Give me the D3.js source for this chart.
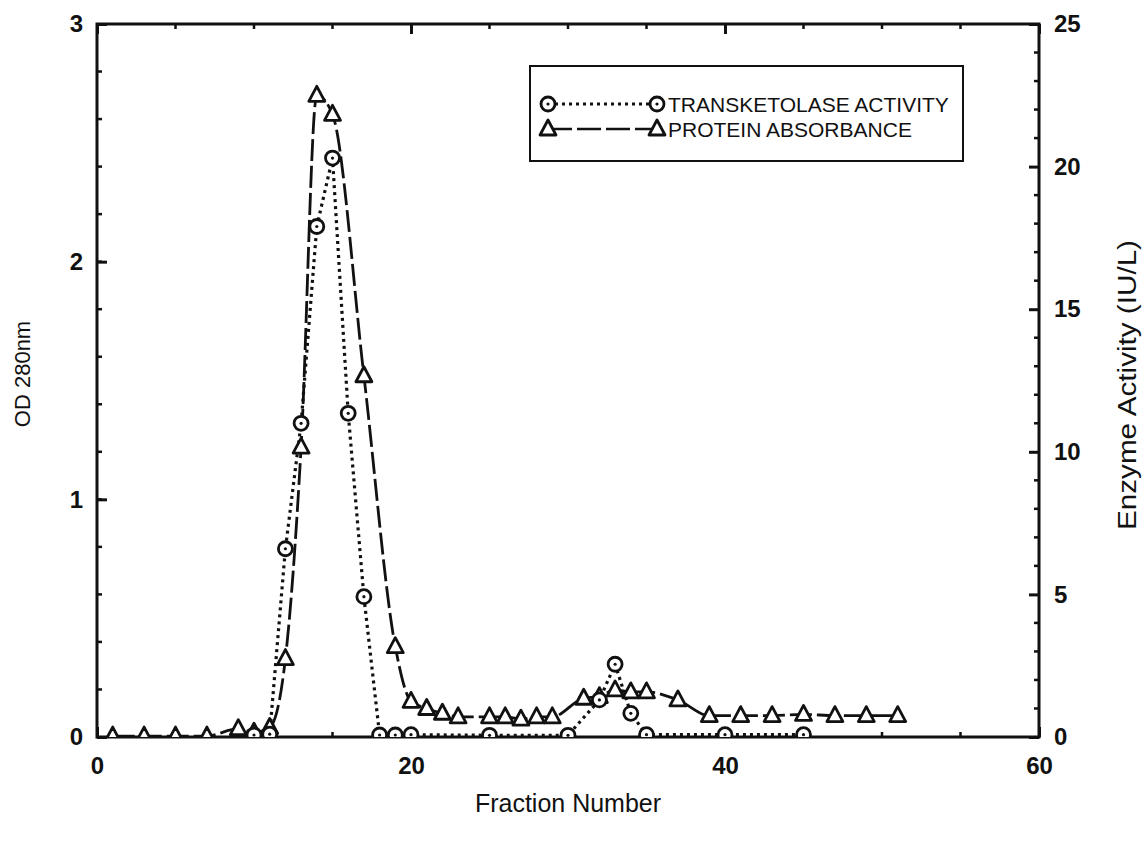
<!DOCTYPE html>
<html>
<head>
<meta charset="utf-8">
<script src="https://cdn.jsdelivr.net/npm/d3@7"></script>
<style>
  body { margin: 0; background: #fff; }
  svg { display: block; font-family: "Liberation Sans", Arial, Helvetica, sans-serif; }
</style>
</head>
<body>
<svg id="chart" width="1147" height="843"></svg>
<script>
// Transketolase activity (IU/L, right axis) per fraction
const activityFractions = [10, 11, 12, 13, 14, 15, 16, 17, 18, 19, 20, 25, 30, 32, 33, 34, 35, 40, 45];
const activityValues    = [0.07, 0.1, 6.6, 11.0, 17.9, 20.3, 11.35, 4.92, 0.07, 0.07, 0.08, 0.06, 0.06, 1.3, 2.55, 0.83, 0.08, 0.08, 0.08];

// Protein absorbance (OD 280nm, left axis) per fraction
const proteinFractions = [1, 3, 5, 7, 9, 10, 11, 12, 13, 14, 15, 17, 19, 20, 21, 22, 23, 25, 26, 27, 28, 29, 31, 32, 33, 34, 35, 37, 39, 41, 43, 45, 47, 49, 51];
const proteinValues    = [0.004, 0.004, 0.004, 0.004, 0.035, 0.02, 0.04, 0.33, 1.22, 2.70, 2.62, 1.52, 0.38, 0.15, 0.12, 0.10, 0.085, 0.085, 0.085, 0.075, 0.085, 0.085, 0.163, 0.17, 0.198, 0.19, 0.19, 0.156, 0.09, 0.09, 0.09, 0.095, 0.09, 0.09, 0.09];

// Axis ticks and labels
const xTicks = [0, 20, 40, 60];
const odTicks = [0, 1, 2, 3];
const activityTicks = [0, 5, 10, 15, 20, 25];
const xTitle = "Fraction Number";
const leftTitle = "OD 280nm";
const rightTitle = "Enzyme Activity (IU/L)";
const legendLabels = ["TRANSKETOLASE ACTIVITY", "PROTEIN ABSORBANCE"];

const svg = d3.select("#chart");
const plot = { left: 97, right: 1039, top: 24, bottom: 737 };

const x = d3.scaleLinear().domain([0, 60]).range([plot.left, plot.right]);
const yOD = d3.scaleLinear().domain([0, 3]).range([plot.bottom, plot.top]);
const yAct = d3.scaleLinear().domain([0, 25]).range([plot.bottom, plot.top]);

const ink = "#111";

svg.append("defs").append("clipPath").attr("id", "plotClip")
  .append("rect")
  .attr("x", plot.left).attr("y", plot.top)
  .attr("width", plot.right - plot.left).attr("height", plot.bottom - plot.top);

// Axes: inward ticks, labels outside
function styleAxis(g) {
  g.select(".domain").remove();
  g.selectAll(".tick line").attr("stroke", ink).attr("stroke-width", 3);
  g.selectAll(".tick text").attr("fill", ink).attr("font-size", 24).attr("font-weight", "bold");
}

svg.append("g").attr("transform", `translate(${plot.left},0)`)
  .call(d3.axisLeft(yOD).tickValues(odTicks).tickSize(-10).tickPadding(14).tickFormat(d3.format("d")))
  .call(styleAxis);

svg.append("g").attr("transform", `translate(${plot.right},0)`)
  .call(d3.axisRight(yAct).tickValues(activityTicks).tickSize(-10).tickPadding(15).tickFormat(d3.format("d")))
  .call(styleAxis);

svg.append("g").attr("transform", `translate(0,${plot.bottom})`)
  .call(d3.axisBottom(x).tickValues(xTicks).tickSize(-10).tickPadding(20).tickFormat(d3.format("d")))
  .call(styleAxis);

svg.append("g").attr("transform", `translate(0,${plot.top})`)
  .call(d3.axisTop(x).tickValues(xTicks).tickSize(-10).tickFormat(""))
  .call(styleAxis);

// Minor ticks
const minor = svg.append("g").attr("stroke", ink).attr("stroke-width", 2.5);
d3.range(0.2, 3, 0.2).forEach(v => {
  minor.append("line").attr("x1", plot.left).attr("x2", plot.left + 5).attr("y1", yOD(v)).attr("y2", yOD(v));
});
d3.range(1, 25, 1).filter(v => v % 5 !== 0).forEach(v => {
  minor.append("line").attr("x1", plot.right).attr("x2", plot.right - 5).attr("y1", yAct(v)).attr("y2", yAct(v));
});
d3.range(5, 60, 5).filter(v => v % 20 !== 0).forEach(v => {
  minor.append("line").attr("x1", x(v)).attr("x2", x(v)).attr("y1", plot.bottom).attr("y2", plot.bottom - 5);
  minor.append("line").attr("x1", x(v)).attr("x2", x(v)).attr("y1", plot.top).attr("y2", plot.top + 5);
});

// Frame
svg.append("rect")
  .attr("x", plot.left).attr("y", plot.top)
  .attr("width", plot.right - plot.left).attr("height", plot.bottom - plot.top)
  .attr("fill", "none").attr("stroke", ink).attr("stroke-width", 3);

// Axis titles
svg.append("text").attr("x", (plot.left + plot.right) / 2).attr("y", 812)
  .attr("text-anchor", "middle").attr("font-size", 25).attr("fill", ink).text(xTitle);
svg.append("text").attr("transform", `translate(30,374) rotate(-90)`)
  .attr("text-anchor", "middle").attr("font-size", 22).attr("fill", ink).text(leftTitle);
svg.append("text").attr("transform", `translate(1136,385) rotate(-90)`)
  .attr("text-anchor", "middle").attr("font-size", 25).attr("fill", ink)
  .attr("textLength", 290).attr("lengthAdjust", "spacingAndGlyphs").text(rightTitle);

// Series data
const protein = proteinFractions.map((f, i) => ({ f, v: proteinValues[i] }));
const activity = activityFractions.map((f, i) => ({ f, v: activityValues[i] }));

const dataLayer = svg.append("g").attr("clip-path", "url(#plotClip)");

const proteinLine = d3.line().x(d => x(d.f)).y(d => yOD(d.v)).curve(d3.curveMonotoneX);
const activityLine = d3.line().x(d => x(d.f)).y(d => yAct(d.v));

dataLayer.append("path").datum(protein)
  .attr("d", proteinLine).attr("fill", "none").attr("stroke", ink)
  .attr("stroke-width", 2.8).attr("stroke-dasharray", "22,5");

dataLayer.append("path").datum(activity)
  .attr("d", activityLine).attr("fill", "none").attr("stroke", ink)
  .attr("stroke-width", 3.2).attr("stroke-dasharray", "3,4");

// Markers
const triPath = "M0,-9 L8,6 L-8,6 Z";
function triangle(g, cx, cy) {
  g.append("path").attr("d", triPath).attr("transform", `translate(${cx},${cy})`)
    .attr("fill", "#fff").attr("stroke", ink).attr("stroke-width", 2.8).attr("stroke-linejoin", "round");
}
function ringDot(g, cx, cy) {
  g.append("circle").attr("cx", cx).attr("cy", cy).attr("r", 7)
    .attr("fill", "#fff").attr("stroke", ink).attr("stroke-width", 2.8);
  g.append("circle").attr("cx", cx).attr("cy", cy).attr("r", 1.6).attr("fill", ink);
}

protein.forEach(d => triangle(dataLayer, x(d.f), yOD(d.v)));
activity.forEach(d => ringDot(dataLayer, x(d.f), yAct(d.v)));

// Legend
const lg = svg.append("g");
lg.append("rect").attr("x", 530).attr("y", 66).attr("width", 433).attr("height", 95)
  .attr("fill", "#fff").attr("stroke", ink).attr("stroke-width", 2);
const rows = [104, 129];
lg.append("line").attr("x1", 548).attr("x2", 657).attr("y1", rows[0]).attr("y2", rows[0])
  .attr("stroke", ink).attr("stroke-width", 3).attr("stroke-dasharray", "3,4");
ringDot(lg, 548, rows[0]);
ringDot(lg, 657, rows[0]);
lg.append("line").attr("x1", 548).attr("x2", 657).attr("y1", rows[1]).attr("y2", rows[1])
  .attr("stroke", ink).attr("stroke-width", 2.6).attr("stroke-dasharray", "24,5");
triangle(lg, 548, rows[1]);
triangle(lg, 657, rows[1]);
legendLabels.forEach((t, i) => {
  lg.append("text").attr("x", 668).attr("y", rows[i]).attr("dy", "0.36em")
    .attr("font-size", 21).attr("fill", ink).text(t);
});
</script>
</body>
</html>
